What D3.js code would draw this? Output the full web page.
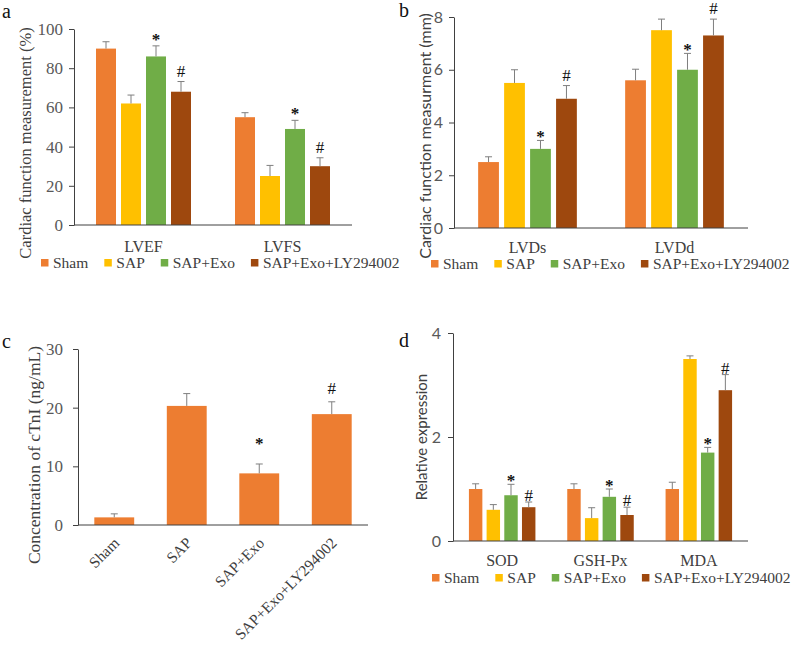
<!DOCTYPE html>
<html>
<head>
<meta charset="utf-8">
<script src="https://cdn.jsdelivr.net/npm/d3@7"></script>
<style>
  body { margin: 0; background: #fff; }
  svg { display: block; font-family: "Liberation Serif", "Times New Roman", serif; }
  .cat-label, .legend-text, .axis-title { fill: #404040; }
</style>
</head>
<body>
<svg id="chart" width="800" height="651"></svg>
<script>
// ---- data ----
var seriesNames = ['Sham', 'SAP', 'SAP+Exo', 'SAP+Exo+LY294002'];
var seriesColors = ['#ED7D31', '#FFC000', '#70AD47', '#9E480E'];
var sigMarks = ['', '', '*', '#'];

var groupsA = ['LVEF', 'LVFS'];
var meansA = [[90, 62, 86, 68], [55, 25, 49, 30]];
var errA = [[3.5, 4.3, 5.4, 5.2], [2.3, 5.4, 4.4, 4.3]];
var ticksA = [0, 20, 40, 60, 80, 100];

var groupsB = ['LVDs', 'LVDd'];
var meansB = [[2.5, 5.5, 3.0, 4.9], [5.6, 7.5, 6.0, 7.3]];
var errB = [[0.2, 0.5, 0.32, 0.5], [0.42, 0.42, 0.62, 0.62]];
var ticksB = [0, 2, 4, 6, 8];

var groupsC = ['Sham', 'SAP', 'SAP+Exo', 'SAP+Exo+LY294002'];
var meansC = [1.3, 20.3, 8.8, 18.9];
var errC = [0.6, 2.1, 1.6, 2.1];
var ticksC = [0, 10, 20, 30];

var groupsD = ['SOD', 'GSH-Px', 'MDA'];
var meansD = [[1.0, 0.6, 0.88, 0.65], [1.0, 0.44, 0.85, 0.5], [1.0, 3.5, 1.7, 2.9]];
var errD = [[0.1, 0.1, 0.21, 0.1], [0.1, 0.2, 0.15, 0.15], [0.13, 0.06, 0.1, 0.3]];
var ticksD = [0, 2, 4];

var svg = d3.select('#chart');
var SERIF = 'Liberation Serif', SANS = 'Lato';

function yAxis(g, y, ticks, pad, font, size) {
    var ax = d3.axisLeft(y).tickValues(ticks).tickFormat(d3.format('d'))
        .tickSize(5).tickPadding(pad).tickSizeOuter(0);
    g.call(ax);
    g.select('.domain').attr('stroke', '#404040');
    g.selectAll('.tick line').attr('stroke', '#404040');
    g.selectAll('.tick text')
        .attr('fill', '#595959')
        .style('font-family', font)
        .style('font-size', size + 'px');
}

function errorBar(g, x, yTop, yBase) {
    g.append('line')
        .attr('x1', x).attr('x2', x)
        .attr('y1', yBase).attr('y2', yTop)
        .attr('stroke', '#7f7f7f');
    g.append('line')
        .attr('x1', x - 3.5).attr('x2', x + 3.5)
        .attr('y1', yTop).attr('y2', yTop)
        .attr('stroke', '#7f7f7f');
}

function legend(g, x0, y) {
    var x = x0;
    seriesNames.forEach(function(name, i) {
        g.append('rect')
            .attr('x', x).attr('y', y - 9)
            .attr('width', 7.5).attr('height', 7.5)
            .attr('fill', seriesColors[i]);
        var t = g.append('text')
            .classed('legend-text', true)
            .attr('x', x + 12).attr('y', y)
            .style('font-size', '15.5px')
            .text(name);
        x += 12 + t.node().getComputedTextLength() + 16;
    });
}

function panelLabel(text, x, y) {
    svg.append('text')
        .attr('x', x).attr('y', y)
        .attr('fill', '#111')
        .style('font-size', '20px')
        .text(text);
}

function axisTitle(text, x, y, font, size) {
    svg.append('text')
        .classed('axis-title', true)
        .attr('transform', 'translate(' + x + ',' + y + ') rotate(-90)')
        .attr('text-anchor', 'middle')
        .attr('fill', '#595959')
        .style('font-family', font)
        .style('font-size', size + 'px')
        .text(text);
}

function groupedPanel(cfg) {
    var g = svg.append('g');
    var x0 = d3.scaleBand().domain(cfg.groups).range([cfg.left, cfg.right]);
    var x1 = d3.scaleBand().domain(d3.range(seriesNames.length))
        .range([0, x0.bandwidth()])
        .paddingInner(cfg.padIn).paddingOuter(cfg.padOut);
    var y = d3.scaleLinear().domain(cfg.domain).range([cfg.bottom, cfg.top]);

    cfg.groups.forEach(function(grp, gi) {
        var gg = g.append('g').attr('transform', 'translate(' + x0(grp) + ',0)');
        cfg.means[gi].forEach(function(v, si) {
            gg.append('rect')
                .attr('x', x1(si)).attr('y', y(v))
                .attr('width', x1.bandwidth()).attr('height', y(0) - y(v))
                .attr('fill', seriesColors[si]);
            var cx = x1(si) + x1.bandwidth() / 2;
            var top = y(v + cfg.errs[gi][si]);
            errorBar(gg, cx, top, y(v));
            if (sigMarks[si]) {
                gg.append('text')
                    .attr('x', cx)
                    .attr('y', top - (sigMarks[si] === '*' ? cfg.starOff : cfg.hashOff))
                    .attr('text-anchor', 'middle')
                    .attr('fill', '#111')
                    .style('font-size', '17px')
                    .style('font-weight', sigMarks[si] === '*' ? 'bold' : 'normal')
                    .text(sigMarks[si]);
            }
        });
        g.append('text')
            .classed('cat-label', true)
            .attr('x', x0(grp) + x0.bandwidth() / 2)
            .attr('y', cfg.bottom + cfg.catOff)
            .attr('text-anchor', 'middle')
            .style('font-size', '16px')
            .text(grp);
    });

    g.append('line')
        .attr('x1', cfg.left).attr('x2', cfg.right)
        .attr('y1', y(0)).attr('y2', y(0))
        .attr('stroke', '#404040');
    g.append('g').attr('transform', 'translate(' + cfg.left + ',0)')
        .call(yAxis, y, cfg.ticks, cfg.tickPad, cfg.tickFont, cfg.tickSize);

    legend(g, cfg.legendX, cfg.legendY);
}

// panel a
groupedPanel({
    groups: groupsA, means: meansA, errs: errA, ticks: ticksA, domain: [0, 100],
    left: 74, right: 352, top: 29, bottom: 225,
    padIn: 0.2, padOut: 0.88, tickPad: 6, tickFont: SERIF, tickSize: 17, catOff: 27,
    starOff: 1, hashOff: 5, legendX: 41, legendY: 268
});
panelLabel('a', 2, 18);
axisTitle('Cardiac function measurement (%)', 31, 143, SERIF, 16.5);

// panel b
groupedPanel({
    groups: groupsB, means: meansB, errs: errB, ticks: ticksB, domain: [0, 8],
    left: 454, right: 748, top: 17, bottom: 228,
    padIn: 0.2, padOut: 0.93, tickPad: 6, tickFont: SANS, tickSize: 16, catOff: 25,
    starOff: -2, hashOff: 5, legendX: 431, legendY: 269
});
panelLabel('b', 399, 17);
axisTitle('Cardiac function measurment (mm)', 431, 136, SANS, 16);

// panel d
groupedPanel({
    groups: groupsD, means: meansD, errs: errD, ticks: ticksD, domain: [0, 4],
    left: 453, right: 748, top: 333, bottom: 541,
    padIn: 0.24, padOut: 0.9, tickPad: 7, tickFont: SANS, tickSize: 16, catOff: 25,
    starOff: -2, hashOff: 1, legendX: 432, legendY: 583
});
panelLabel('d', 399, 347);
axisTitle('Relative expression', 427, 437, SANS, 15);

// panel c
(function() {
    var g = svg.append('g');
    var left = 78, right = 368, top = 349, bottom = 525;
    var x = d3.scaleBand().domain(groupsC).range([left, right]).paddingInner(0.45).paddingOuter(0.225);
    var y = d3.scaleLinear().domain([0, 30]).range([bottom, top]);

    groupsC.forEach(function(c, i) {
        var v = meansC[i];
        g.append('rect')
            .attr('x', x(c)).attr('y', y(v))
            .attr('width', x.bandwidth()).attr('height', y(0) - y(v))
            .attr('fill', seriesColors[0]);
        var cx = x(c) + x.bandwidth() / 2;
        var topY = y(v + errC[i]);
        errorBar(g, cx, topY, y(v));
        if (sigMarks[i]) {
            g.append('text')
                .attr('x', cx)
                .attr('y', topY - (sigMarks[i] === '*' ? 15 : 8))
                .attr('text-anchor', 'middle')
                .attr('fill', '#111')
                .style('font-size', '17px')
                .style('font-weight', sigMarks[i] === '*' ? 'bold' : 'normal')
                .text(sigMarks[i]);
        }
        g.append('text')
            .classed('cat-label', true)
            .attr('transform', 'translate(' + (cx + 6) + ',' + (bottom + 19) + ') rotate(-45)')
            .attr('text-anchor', 'end')
            .style('font-size', '15.5px')
            .text(c);
    });

    g.append('line')
        .attr('x1', left).attr('x2', right)
        .attr('y1', y(0)).attr('y2', y(0))
        .attr('stroke', '#404040');
    g.append('g').attr('transform', 'translate(' + left + ',0)')
        .call(yAxis, y, ticksC, 10, SERIF, 17);
})();
panelLabel('c', 2, 348);
axisTitle('Concentration of cTnI (ng/mL)', 40, 455, SERIF, 17.5);
</script>
</body>
</html>
